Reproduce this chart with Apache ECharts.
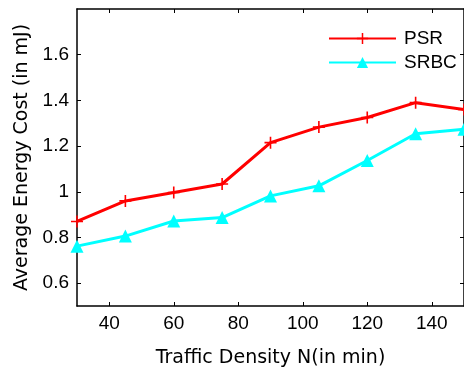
<!DOCTYPE html>
<html><head><meta charset="utf-8">
<script src="https://cdn.jsdelivr.net/npm/echarts@6/dist/echarts.min.js"></script>
<style>html,body{margin:0;padding:0;background:#fff}#c{width:464px;height:376px}</style>
</head><body><div id="c"></div>
<script>
const xValues = [30, 45, 60, 75, 90, 105, 120, 135, 150];
const psr = [0.87, 0.96, 0.997, 1.034, 1.215, 1.283, 1.325, 1.39, 1.36];
const srbc = [0.762, 0.806, 0.872, 0.887, 0.982, 1.026, 1.137, 1.254, 1.274];
const xTicks = [40, 60, 80, 100, 120, 140];
const yTicks = [0.6, 0.8, 1.0, 1.2, 1.4, 1.6];

const font = 'Liberation Sans, Arial, sans-serif';
const titleFont = 'DejaVu Sans, sans-serif';
const chart = echarts.init(document.getElementById('c'));
const axisLine = {show: true, lineStyle: {color: '#000', width: 1.5}};
chart.setOption({
  animation: false,
  backgroundColor: '#fff',
  grid: {left: 77, top: 9, width: 390, height: 297, containLabel: false},
  legend: {
    left: 323, top: 24, orient: 'vertical', itemWidth: 67, itemHeight: 14, itemGap: 5,
    textStyle: {fontFamily: font, fontSize: 19, color: '#000', padding: [0,0,0,3]},
    data: ['PSR', 'SRBC']
  },
  xAxis: [{
    type: 'value', min: 30, max: 150, position: 'bottom',
    name: 'Traffic Density N(in min)', nameLocation: 'middle', nameGap: 43,
    nameTextStyle: {fontFamily: titleFont, fontSize: 19, color: '#000'},
    axisLine: axisLine, splitLine: {show: false},
    axisTick: {show: true, inside: true, length: 4, customValues: xTicks, lineStyle: {color: '#000'}},
    axisLabel: {customValues: xTicks, fontFamily: font, fontSize: 19, color: '#000', margin: 8}
  }, {
    type: 'value', min: 30, max: 150, position: 'top',
    axisLine: axisLine, splitLine: {show: false},
    axisTick: {show: true, inside: true, length: 4, customValues: xTicks, lineStyle: {color: '#000'}},
    axisLabel: {show: false}
  }],
  yAxis: [{
    type: 'value', min: 0.5, max: 1.8, position: 'left',
    name: 'Average Energy Cost (in mJ)', nameLocation: 'middle', nameGap: 45, nameRotate: 90,
    nameTextStyle: {fontFamily: titleFont, fontSize: 19, color: '#000'},
    axisLine: axisLine, splitLine: {show: false},
    axisTick: {show: true, inside: true, length: 4, customValues: yTicks, lineStyle: {color: '#000'}},
    axisLabel: {customValues: yTicks, fontFamily: font, fontSize: 19, color: '#000', margin: 8,
      formatter: v => String(Math.round(v * 10) / 10)}
  }, {
    type: 'value', min: 0.5, max: 1.8, position: 'right',
    axisLine: axisLine, splitLine: {show: false},
    axisTick: {show: true, inside: true, length: 4, customValues: yTicks, lineStyle: {color: '#000'}},
    axisLabel: {show: false}
  }],
  series: [{
    name: 'PSR', type: 'line', data: xValues.map((x, i) => [x, psr[i]]),
    color: '#ff0000', lineStyle: {width: 3, color: '#ff0000'},
    symbol: 'path://M-0.8,-6H0.8V-0.8H6V0.8H0.8V6H-0.8V0.8H-6V-0.8H-0.8Z', symbolSize: 12,
    itemStyle: {color: '#ff0000'}
  }, {
    name: 'SRBC', type: 'line', data: xValues.map((x, i) => [x, srbc[i]]),
    color: '#00ffff', lineStyle: {width: 3, color: '#00ffff'},
    symbol: 'triangle', symbolSize: 13,
    itemStyle: {color: '#00ffff'}
  }]
});
</script></body></html>
